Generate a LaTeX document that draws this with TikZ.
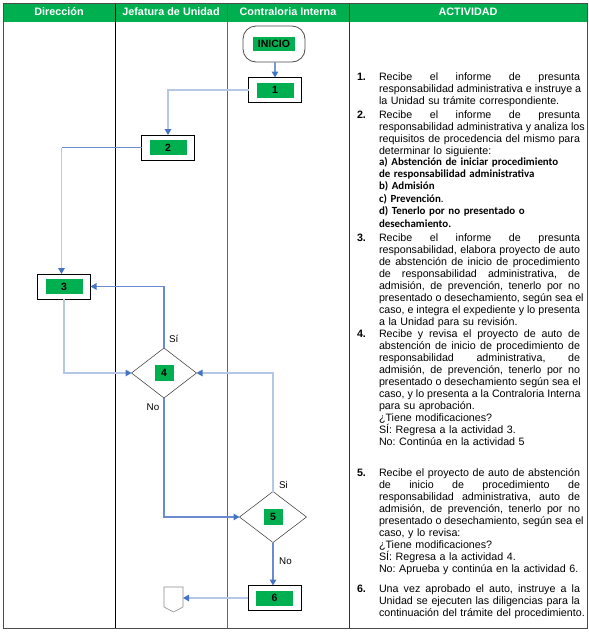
\documentclass[tikz,border=0pt]{standalone}
\usepackage{fontspec}
\setmainfont{Liberation Sans}
\newfontfamily\calib{Carlito}
\usetikzlibrary{arrows.meta,shapes.geometric}
\definecolor{hdrgreen}{HTML}{00B050}
\definecolor{lnpale}{HTML}{B4C7E7}
\definecolor{lnmid}{HTML}{6A8BD0}
\definecolor{tipblue}{HTML}{4472C4}
\newcommand\jl[1]{\leavevmode\hbox to 201pt{\spaceskip=0.278em plus 1fil\relax\xspaceskip=0.278em plus 1fil\relax #1}}
\begin{document}
\begin{tikzpicture}[x=1pt,y=-1pt,
  every node/.style={inner sep=0pt,outer sep=0pt},
  proc/.style={draw=black,line width=1pt,minimum width=53pt,minimum height=25pt,fill=white},
  tag/.style={fill=hdrgreen,minimum width=37pt,minimum height=15pt,font=\fontsize{10.5}{12}\selectfont\bfseries},
  dec/.style={diamond,draw=black!80,line width=0.5pt,minimum width=65pt,minimum height=50pt,fill=white},
  hdr/.style={text=white,font=\fontsize{10.8}{12}\selectfont\bfseries},
  conn/.style={line width=1.3pt,-{Triangle[length=6pt,width=6.5pt,color=tipblue]}},
  lbl/.style={font=\fontsize{9.8}{11}\selectfont},
  lst/.style={anchor=base west,text width=210pt,align=left,font=\fontsize{10.7}{12.1}\selectfont\frenchspacing},
  num/.style={anchor=base west,font=\fontsize{10.7}{12}\selectfont\bfseries}]
\useasboundingbox (0,0) rectangle (589,635);
% table
\fill[hdrgreen] (3,3) rectangle (587,22);
\draw[line width=0.9pt,black] (115,3) -- (115,628);
\draw[line width=0.9pt,black!60] (227,3) -- (227,628);
\draw[line width=0.9pt,black!80] (349,3) -- (349,628);
\draw[line width=0.9pt,black!70] (3,3) rectangle (587,628);
\node[hdr] (h1) at (59,12) {Dirección};
\node[hdr] (h2) at (171,12) {Jefatura de Unidad};
\node[hdr] (h3) at (288,12) {Contraloria Interna};
\node[hdr] (h4) at (468,12) {ACTIVIDAD};
% flow nodes
\node[draw=black!70,line width=0.8pt,rounded corners=13pt,minimum width=62pt,minimum height=36pt] (ini) at (274,44) {};
\node[tag,minimum width=42pt,minimum height=14pt] (tini) at (ini) {INICIO};
\node[proc] (b1) at (275,90) {};
\node[tag] (t1) at (b1) {1};
\node[proc] (b2) at (168,147.5) {};
\node[tag] (t2) at (b2) {2};
\node[proc] (b3) at (64,286.5) {};
\node[tag] (t3) at (b3) {3};
\node[dec] (d4) at (164,373) {};
\node[tag,minimum width=19pt,minimum height=16pt] (t4) at (d4) {4};
\node[dec,minimum width=67pt,minimum height=51pt] (d5) at (273,517) {};
\node[tag,minimum width=19pt,minimum height=16pt] (t5) at (d5) {5};
\node[proc] (b6) at (274.5,598) {};
\node[tag] (t6) at (b6) {6};
\draw[draw=black!45,line width=0.6pt,fill=white] (164,587) -- (183,587) -- (183,607) -- (173.5,612) -- (164,607) -- cycle;
\coordinate (off) at (183,598);
% connectors
\draw[conn,draw=lnmid!80!lnpale] (ini.south -| b1.north) -- (b1.north);
\draw[conn,draw=lnpale] (b1.west) -| (b2.north);
\draw[line width=1.3pt,draw=lnmid] (b2.west) -- ++(-80,0) coordinate (c23);
\draw[conn,draw=lnpale] (c23) -- (c23 |- b3.north);
\draw[conn,draw=lnpale] (b3.south) |- (d4.west);
\draw[conn,draw=lnmid] (d4.north) |- (b3.east);
\draw[conn,draw=lnpale] (d5.north) |- (d4.east);
\draw[conn,draw=lnmid] (d4.south) |- (d5.west);
\draw[conn,draw=lnmid] (d5.south) -- (d5.south |- b6.north);
\draw[conn,draw=lnpale] (b6.west) -- (off);
% labels
\node[lbl,anchor=west] (ls4) at (169,339) {Sí};
\node[lbl] (ln4) at (153,407) {No};
\node[lbl] (ls5) at (283.5,485) {Si};
\node[lbl] (ln5) at (285.5,561) {No};
% activity list
\node[num] (n1) at (357,80) {1.};
\node[lst] (a1) at (379,80) {\jl{Recibe el informe de presunta}\\
\jl{responsabilidad administrativa e instruye a}\\
la Unidad su trámite correspondiente.};
\node[num] (n2) at (357,118) {2.};
\node[lst] (a2) at (379,118) {\jl{Recibe el informe de presunta}\\
\jl{responsabilidad administrativa y analiza los}\\
\jl{requisitos de procedencia del mismo para}\\
determinar lo siguiente:};
\node[lst,font=\calib\bfseries\fontsize{10.9}{12.4}\selectfont] (a2b) at (379,165) {a) Abstención de iniciar procedimiento\\
de responsabilidad administrativa\\
b) Admisión\\
c) Prevención{\mdseries.}\\
d) Tenerlo por no presentado o\\
desechamiento.};
\node[num] (n3) at (357,241) {3.};
\node[lst] (a3) at (379,241) {\jl{Recibe el informe de presunta}\\
\jl{responsabilidad, elabora proyecto de auto}\\
\jl{de abstención de inicio de procedimiento}\\
\jl{de responsabilidad administrativa, de}\\
\jl{admisión, de prevención, tenerlo por no}\\
\jl{presentado o desechamiento, según sea el}\\
\jl{caso, e integra el expediente y lo presenta}\\
a la Unidad para su revisión.};
\node[num] (n4) at (357,337) {4.};
\node[lst] (a4) at (379,337) {\jl{Recibe y revisa el proyecto de auto de}\\
\jl{abstención de inicio de procedimiento de}\\
\jl{responsabilidad administrativa, de}\\
\jl{admisión, de prevención, tenerlo por no}\\
\jl{presentado o desechamiento según sea el}\\
\jl{caso, y lo presenta a la Contraloria Interna}\\
para su aprobación.\\
¿Tiene modificaciones?\\
SÍ: Regresa a la actividad 3.\\
No: Continúa en la actividad 5};
\node[num] (n5) at (357,476) {5.};
\node[lst] (a5) at (379,476) {\jl{Recibe el proyecto de auto de abstención}\\
\jl{de inicio de procedimiento de}\\
\jl{responsabilidad administrativa, auto de}\\
\jl{admisión, de prevención, tenerlo por no}\\
\jl{presentado o desechamiento, según sea el}\\
caso, y lo revisa:\\
¿Tiene modificaciones?\\
SÍ: Regresa a la actividad 4.\\
No: Aprueba y continúa en la actividad 6.};
\node[num] (n6) at (357,592) {6.};
\node[lst] (a6) at (379,592) {\jl{Una vez aprobado el auto, instruye a la}\\
\jl{Unidad se ejecuten las diligencias para la}\\
continuación del trámite del procedimiento.};
\end{tikzpicture}
\end{document}
